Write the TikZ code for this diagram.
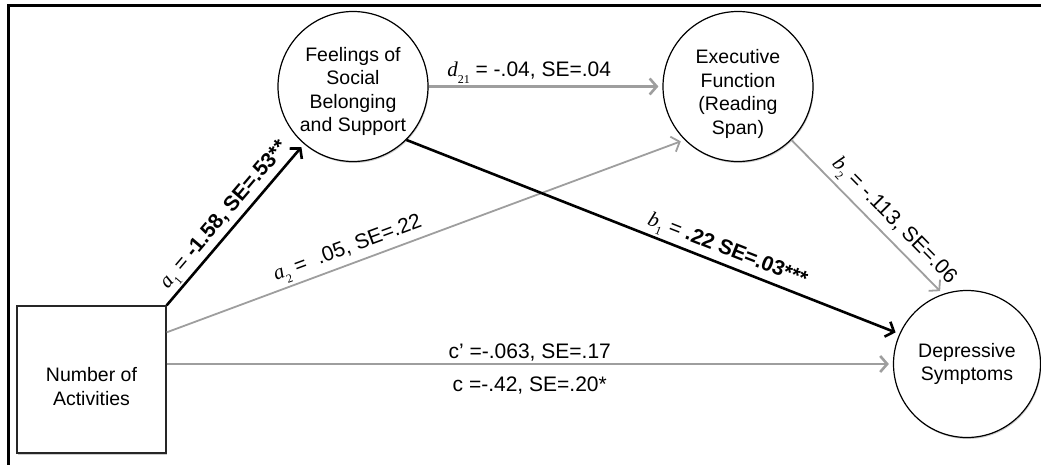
\documentclass[tikz,border=0pt]{standalone}
\usepackage{fontspec}
\setmainfont{Liberation Sans}
\newfontfamily\tms{Liberation Serif}
\usetikzlibrary{arrows.meta,shadows}
\definecolor{pathgray}{RGB}{158,158,158}
% path coefficient symbol: italic serif letter with upright subscript
\newcommand{\pvar}[2]{{\tms\itshape #1}\raisebox{-0.3em}{\fontsize{12}{12}\selectfont\tms #2}}
% invisible strut that pushes a node's text block downwards
\newcommand{\topstrut}[1]{\rule{0pt}{#1}}
\begin{document}
\begin{tikzpicture}[x=1pt,y=-1pt,
  nodetext/.style={font=\fontsize{19.5}{23.5}\selectfont},
  construct/.style={circle,draw=black,line width=1.2pt,fill=white,
    minimum size=150pt,inner sep=0pt,align=center,nodetext,
    drop shadow={shadow xshift=0.8pt,shadow yshift=-1.5pt,fill=black,opacity=0.2}},
  observed/.style={rectangle,draw=black!85,line width=1.3pt,fill=white,
    minimum width=149pt,minimum height=147pt,inner sep=0pt,align=center,nodetext,
    drop shadow={shadow xshift=0.8pt,shadow yshift=-1.5pt,fill=black,opacity=0.2}},
  pathline/.style={-{Straight Barb[length=7pt,width=16pt]},shorten >=4pt},
  sig/.style={pathline,draw=black,line width=2.6pt},
  nonsig/.style={pathline,draw=pathgray,line width=1.8pt},
  nonsigwide/.style={nonsig,line width=2.6pt},
  coef/.style={font=\fontsize{21}{25}\selectfont,inner sep=2pt,text=black}
]
\useasboundingbox (0,0) rectangle (1041,465);

% outer frame
\draw[line width=2.5pt] (8.3,470) -- (8.3,5.5) -- (1046,5.5);

% variables
\node[observed]  (sq)   at (91.5,379.5) {\topstrut{28pt}Number of\\Activities};
\node[construct] (feel) at (353,86.5)  {\topstrut{24pt}Feelings of\\Social\\Belonging\\and Support};
\node[construct] (exec) at (738,86.5)  {\topstrut{29pt}Executive\\Function\\(Reading\\Span)};
\node[construct, minimum size=147pt] (dep) at (967,364) {Depressive\\Symptoms};

% paths
\coordinate (a2s) at ([yshift=-27pt]sq.north east);
\coordinate (cs) at (sq.east |- dep.west);

\draw[sig] (sq.north east) -- node[coef,sloped,above,pos=0.5]
  {\pvar{a}{1} = \textbf{-1.58, SE=.53**}} (feel);
\draw[nonsig] (a2s) -- node[coef,sloped,above,pos=0.36,inner sep=3pt]
  {\pvar{a}{2} =\ \ .05, SE=.22} (exec.south west);
\draw[nonsigwide] (feel) -- node[coef,above,pos=0.43]
  {\pvar{d}{21} = -.04, SE=.04} (exec);
\draw[sig] (feel.south east) -- node[coef,sloped,above,pos=0.64]
  {\pvar{b}{1} = \textbf{.22 SE=.03***}} (dep.156);
\draw[nonsig] (exec.south east) -- node[coef,sloped,above,pos=0.6,inner sep=4pt]
  {\pvar{b}{2} = -.113, SE=.06} (dep.109);
\draw[nonsigwide] (cs) -- node[coef,above,pos=0.5] {c’ =-.063, SE=.17}
  node[coef,below,pos=0.5,yshift=-10pt] {c =-.42, SE=.20*} (dep.west);
\end{tikzpicture}
\end{document}
